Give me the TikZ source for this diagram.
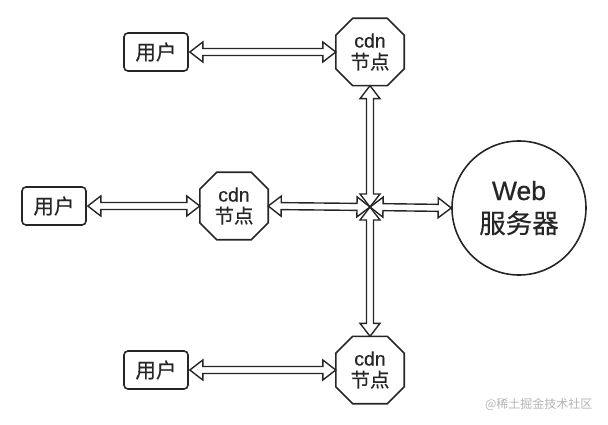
\documentclass[tikz,border=0pt]{standalone}
\usepackage{fontspec}
\setmainfont{Noto Sans CJK SC}[FakeBold=0.5]
\newfontfamily\latin{Liberation Sans}[FakeBold=0.5]
\newfontfamily\wmfont{Noto Sans CJK SC}
\usetikzlibrary{calc}
\definecolor{ink}{HTML}{262626}
\definecolor{wm}{HTML}{B4B4B4}
\begin{document}
\begin{tikzpicture}[x=1pt,y=-1pt,
  every node/.style={text=ink},
  userbox/.style={draw=ink,line width=1.6pt,rounded corners=4pt,minimum width=64pt,minimum height=38pt,inner sep=0pt,font=\fontsize{20.5}{22}\selectfont},
  cdnbox/.style={minimum width=68pt,minimum height=67pt,inner sep=0pt,align=center,font=\fontsize{19.5}{21.5}\selectfont},
  octline/.style={draw=ink,line width=1.6pt,line join=miter},
  webbox/.style={draw=ink,line width=1.6pt,circle,minimum size=134pt,inner sep=0pt,align=center,font=\fontsize{26.5}{33}\selectfont},
  harrow/.style={draw=ink,line width=1.4pt,line join=miter,to path={
    (\tikztostart)
    -- ($(\tikztostart)!13pt!(\tikztotarget)!10pt!90:(\tikztotarget)$)
    -- ($(\tikztostart)!13pt!(\tikztotarget)!3.5pt!90:(\tikztotarget)$)
    -- ($(\tikztotarget)!13pt!(\tikztostart)!3.5pt!-90:(\tikztostart)$)
    -- ($(\tikztotarget)!13pt!(\tikztostart)!10pt!-90:(\tikztostart)$)
    -- (\tikztotarget)
    -- ($(\tikztotarget)!13pt!(\tikztostart)!10pt!90:(\tikztostart)$)
    -- ($(\tikztotarget)!13pt!(\tikztostart)!3.5pt!90:(\tikztostart)$)
    -- ($(\tikztostart)!13pt!(\tikztotarget)!3.5pt!-90:(\tikztotarget)$)
    -- ($(\tikztostart)!13pt!(\tikztotarget)!10pt!-90:(\tikztotarget)$)
    -- cycle}}
]
\useasboundingbox (0,0) rectangle (608,425);

\node[userbox] (u1) at (156,52) {用户};
\node[userbox] (u2) at (54,206) {用户};
\node[userbox] (u3) at (156,370) {用户};

\node[cdnbox] (c1) at (370,52) {{\latin cdn}\\节点};
\node[cdnbox] (c2) at (234,206) {{\latin cdn}\\节点};
\node[cdnbox] (c3) at (370,370) {{\latin cdn}\\节点};
\foreach \n in {c1,c2,c3}
  \draw[octline] ($(\n.north west)+(17,0)$) -- ($(\n.north east)+(-17,0)$)
    -- ($(\n.north east)+(0,17)$) -- ($(\n.south east)+(0,-17)$)
    -- ($(\n.south east)+(-17,0)$) -- ($(\n.south west)+(17,0)$)
    -- ($(\n.south west)+(0,-17)$) -- ($(\n.north west)+(0,17)$) -- cycle;

\node[webbox] (web) at (519,208) {{\latin Web}\\服务器};

\coordinate (hub) at (370,207);

\draw[harrow] (u1.east) ++(1,0) coordinate (u1e) (u1e) to (c1.west);
\draw[harrow] (u2.east) ++(1,0) coordinate (u2e) (u2e) to (c2.west);
\draw[harrow] (u3.east) ++(1,0) coordinate (u3e) (u3e) to (c3.west);
\draw[harrow] (c1.south) to (hub);
\draw[harrow] (c2.east) to (hub);
\draw[harrow] (hub) to (web.west);
\draw[harrow] (hub) to (c3.north);

\node[text=wm,font=\wmfont\fontsize{12}{14}\selectfont,anchor=east] (wmark) at (596,404) {@稀土掘金技术社区};
\end{tikzpicture}
\end{document}
